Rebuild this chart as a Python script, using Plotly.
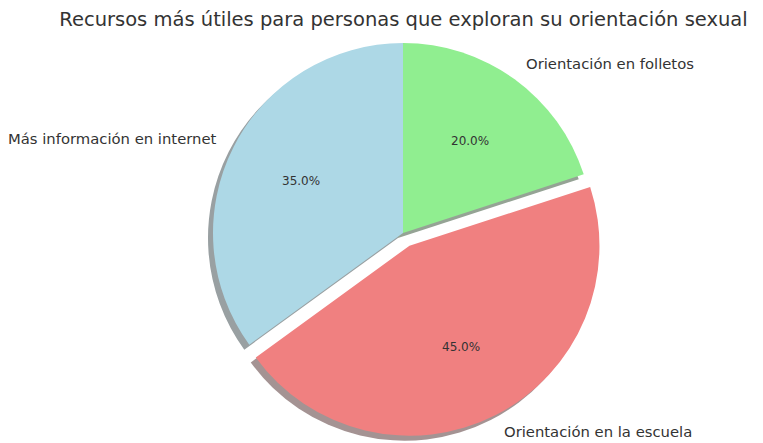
import math
import plotly.graph_objects as go

# ---- data ----
labels = ["Más información en internet", "Orientación en la escuela", "Orientación en folletos"]
values = [35, 45, 20]
colors = ["#ADD8E6", "#F08080", "#90EE90"]
explode = [0.0, 0.1, 0.0]
title = "Recursos más útiles para personas que exploran su orientación sexual"

# ---- geometry (pixels) ----
W, H = 763, 443
PAGE = 8                      # page body margin in the browser
cx, cy, r = 403 - PAGE, 233 - PAGE, 190
explode_px = 0.75             # pixel scale of the explode distance
shadow_off = 5
font = "DejaVu Sans"


def dom(x, y, rad):
    return dict(x=[max(0, (x - rad) / W), min(1, (x + rad) / W)],
                y=[max(0, 1 - (y + rad) / H), min(1, 1 - (y - rad) / H)])


def shadow_col(hexc):
    h = hexc.lstrip("#")
    rgb = [int(h[i:i + 2], 16) for i in (0, 2, 4)]
    return "rgb(%d,%d,%d)" % tuple(round(0.5 * 0.3 * c + 0.5 * 255) for c in rgb)


total = sum(values)
# slice angles (counterclockwise from 90 deg, matplotlib style)
angles = []
start = 90.0
for v in values:
    span = 360.0 * v / total
    angles.append((start, start + span))
    start += span

# plotly: counterclockwise pies place the first slice right of 12 o'clock;
# rotate so that the first slice starts at 12 o'clock going left.
rotation = -360.0 * values[0] / total

fig = go.Figure()


def add_pie(x, y, rad, mask_idx, cols):
    c = [cols[i] if i in mask_idx else "rgba(0,0,0,0)" for i in range(len(values))]
    fig.add_trace(go.Pie(
        values=values, sort=False, direction="counterclockwise",
        rotation=rotation, marker=dict(colors=c, line=dict(width=0)),
        textinfo="none", hoverinfo="skip", showlegend=False,
        domain=dom(x, y, rad)))


shadow_cols = [shadow_col(c) for c in colors]
offs = []
for i, (a0, a1) in enumerate(angles):
    mid = math.radians((a0 + a1) / 2)
    d = explode[i] * r * explode_px
    offs.append((d * math.cos(mid), -d * math.sin(mid)))

plain = [i for i in range(len(values)) if explode[i] == 0]
pulled = [i for i in range(len(values)) if explode[i] != 0]

# shadows (below everything)
add_pie(cx - shadow_off, cy + shadow_off, r, plain, shadow_cols)
for i in pulled:
    sx, sy = cx + offs[i][0] - shadow_off, cy + offs[i][1] + shadow_off
    rr = min(r, H - sy, sy, sx, W - sx)
    add_pie(sx, sy, rr, [i], shadow_cols)
# slices
add_pie(cx, cy, r, plain, colors)
for i in pulled:
    add_pie(cx + offs[i][0], cy + offs[i][1], r, [i], colors)

# labels & percentages (matplotlib-like placement)
for i, (a0, a1) in enumerate(angles):
    mid = math.radians((a0 + a1) / 2)
    ox, oy = offs[i]
    c, s = math.cos(mid), math.sin(mid)
    lx = cx + ox + 1.1 * r * c
    ly = cy + oy - 1.1 * r * s
    fig.add_annotation(x=lx / W, y=1 - ly / H, xref="paper", yref="paper",
                       text=labels[i], showarrow=False, borderpad=0, borderwidth=0,
                       xanchor="left" if c > 0 else "right", yanchor="middle",
                       font=dict(family=font, size=14.8, color="#333333"))
    px = cx + ox + 0.6 * r * c
    py = cy + oy - 0.6 * r * s
    fig.add_annotation(x=px / W, y=1 - py / H, xref="paper", yref="paper",
                       text="%.1f%%" % (100.0 * values[i] / total), showarrow=False,
                       borderpad=0, borderwidth=0,
                       xanchor="center", yanchor="middle",
                       font=dict(family=font, size=12, color="#333333"))

fig.update_layout(
    width=W, height=H,
    margin=dict(l=0, r=0, t=0, b=0),
    paper_bgcolor="white", plot_bgcolor="white",
    title=dict(text=title, x=(403.5 - PAGE) / W, xanchor="center", y=1 - 11 / H, yanchor="middle",
               font=dict(family=font, size=19.5, color="#333333")),
    showlegend=False,
)

fig.write_html("out.html")
